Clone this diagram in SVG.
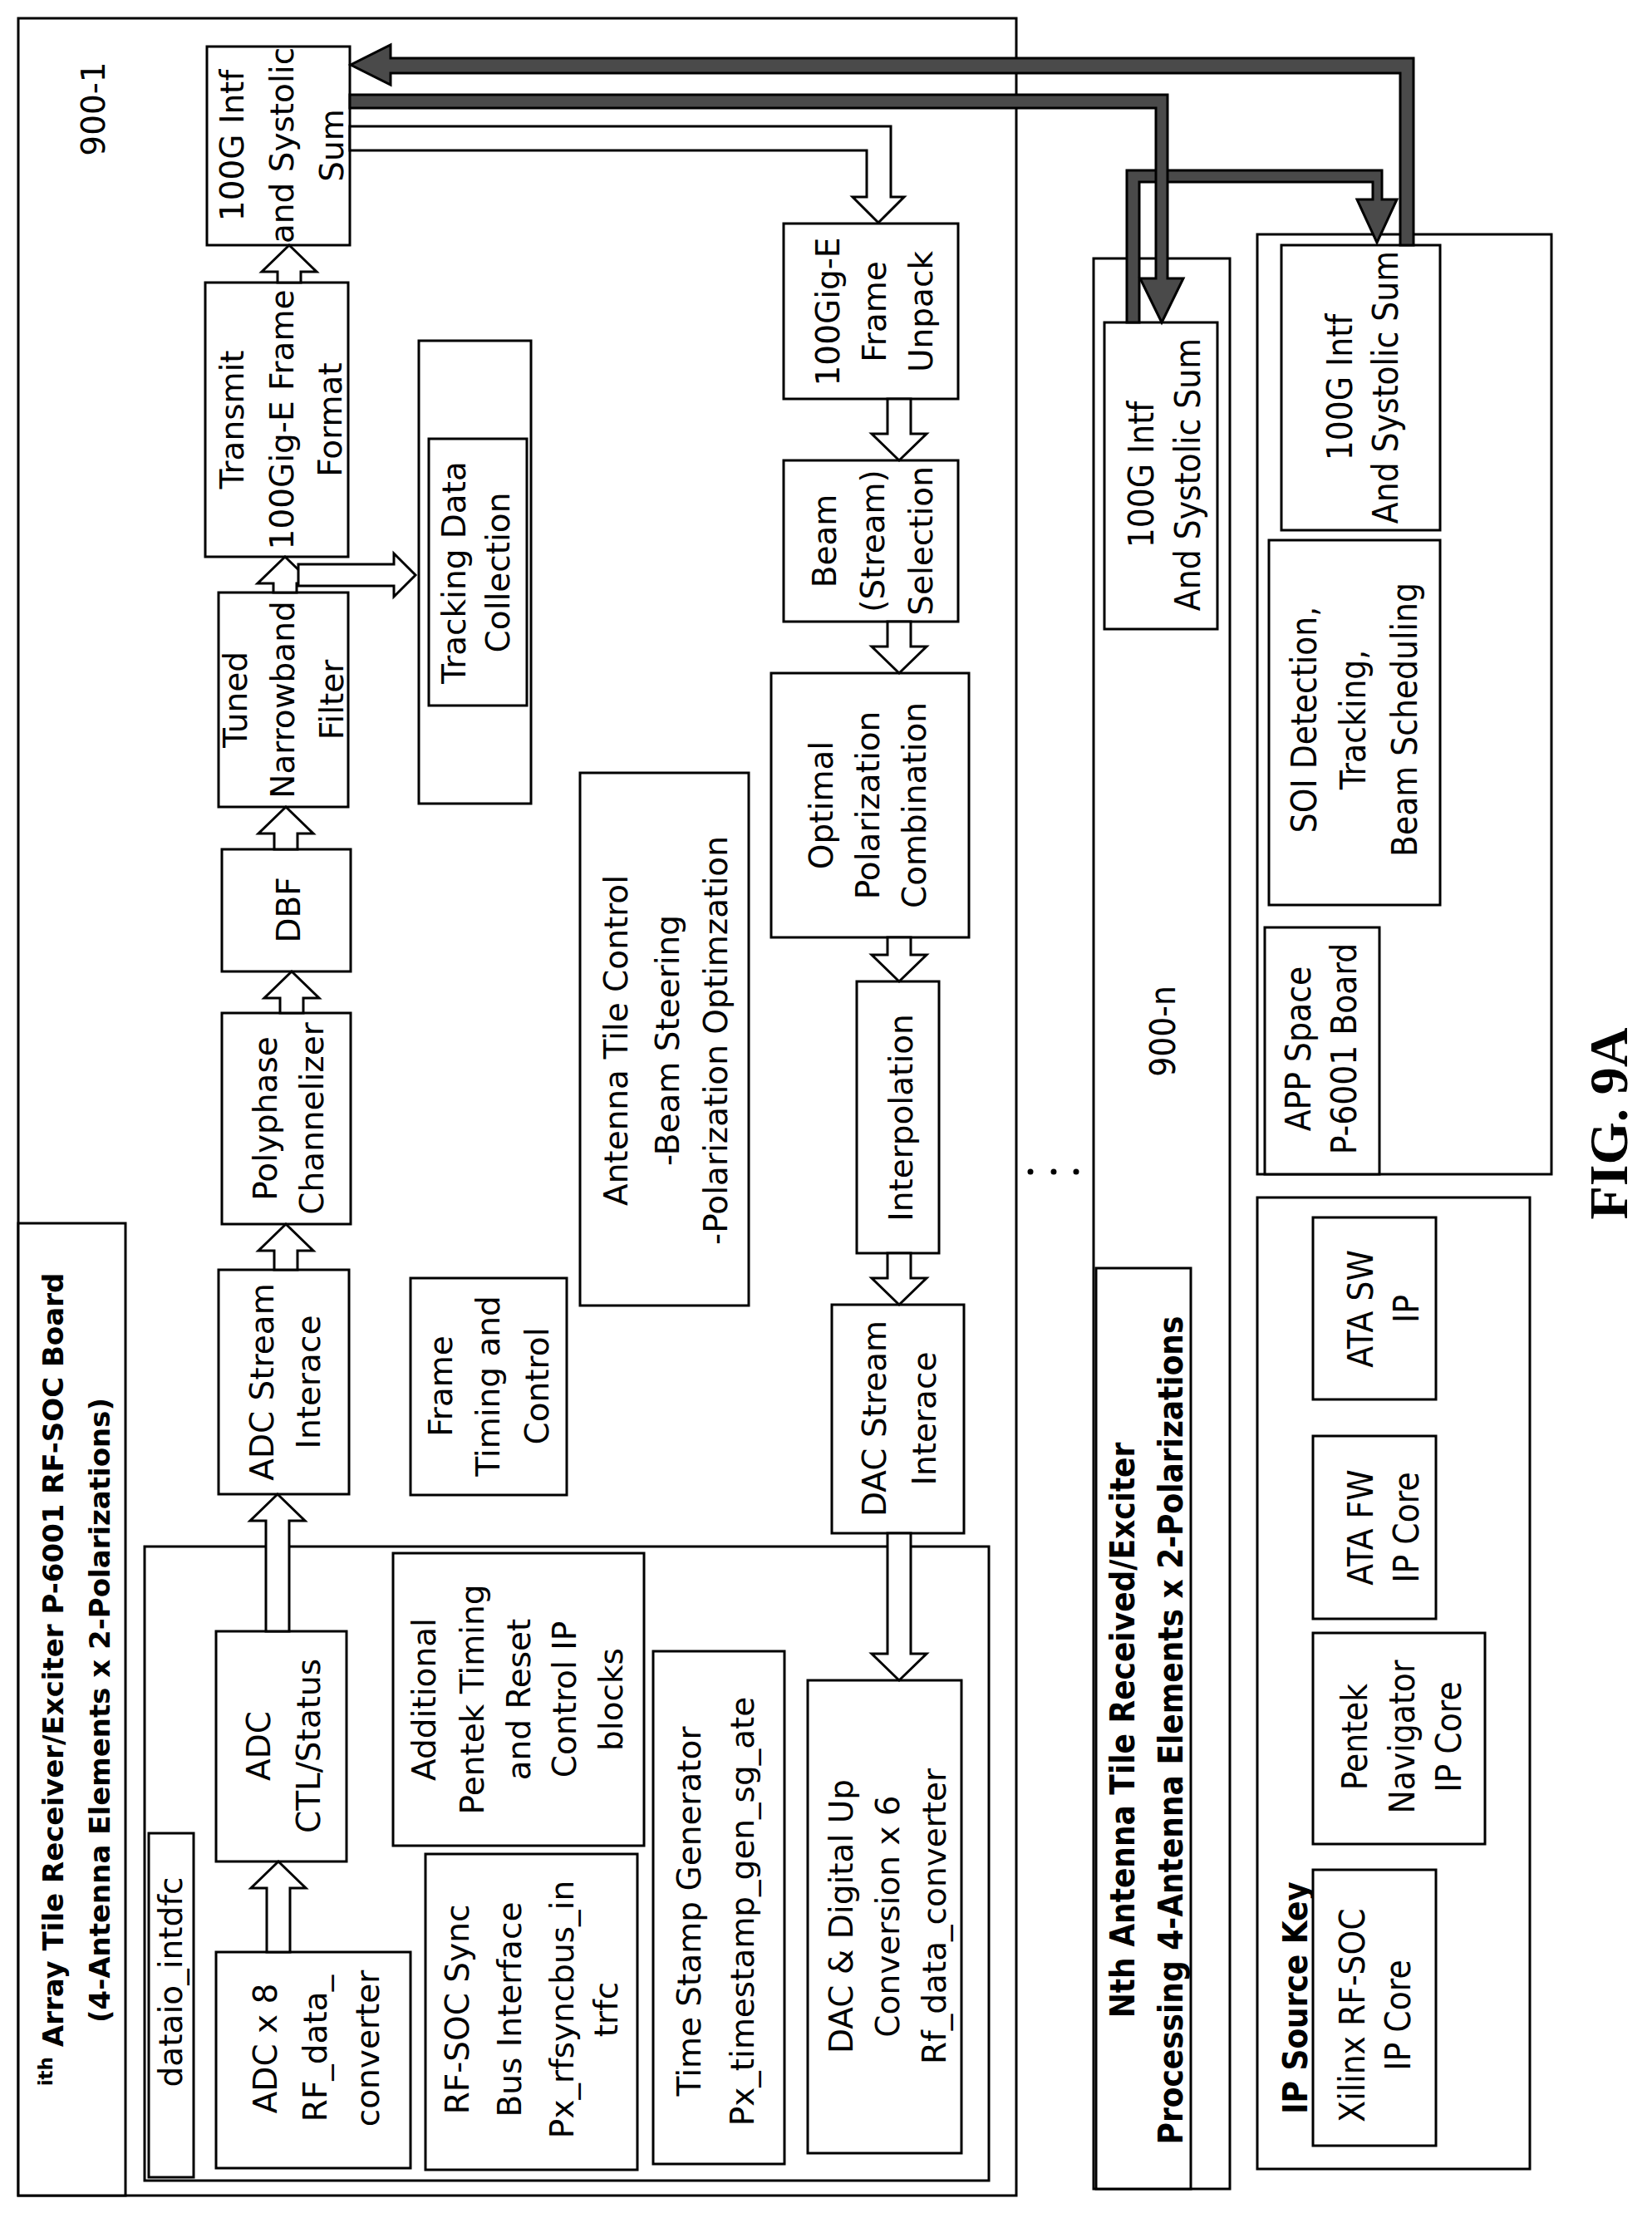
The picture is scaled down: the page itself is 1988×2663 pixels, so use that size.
<svg xmlns="http://www.w3.org/2000/svg" width="1988" height="2663" viewBox="0 0 1988 2663">
<style>
rect{fill:#fff;stroke:#000;stroke-width:3}
.t{font-family:"DejaVu Sans",sans-serif;font-size:39px;text-anchor:middle;dominant-baseline:central}
.b{font-family:"DejaVu Sans",sans-serif;font-weight:bold;font-size:34px;text-anchor:middle;dominant-baseline:central}
.c{font-family:"DejaVu Sans Condensed","DejaVu Sans",sans-serif;font-size:42px;text-anchor:middle;dominant-baseline:central;font-stretch:condensed}
.cb{font-family:"DejaVu Sans Condensed","DejaVu Sans",sans-serif;font-weight:bold;font-size:40px;text-anchor:middle;dominant-baseline:central;font-stretch:condensed}
.ha{fill:#fff;stroke:#000;stroke-width:3;stroke-linejoin:miter}
.da{fill:#4a4a4a;stroke:#000;stroke-width:3}
</style>
<rect width="1988" height="2663" style="fill:#fff;stroke:none"/>
<g id="board900-1">
<rect x="22" y="22" width="1201" height="2620"/>
<text class="t" transform="translate(112,131) rotate(-90)">900-1</text>
</g>
<g id="title1">
<rect x="22" y="1472" width="129" height="1170"/>
<text class="b" transform="translate(64,2021) rotate(-90)"><tspan font-size="23" dy="-9">i</tspan><tspan font-size="23">th</tspan><tspan dy="9"> Array Tile Receiver/Exciter P-6001 RF-SOC Board</tspan></text>
<text class="b" transform="translate(120,2058) rotate(-90)">(4-Antenna Elements x 2-Polarizations)</text>
</g>
<g id="intf1"><rect x="249" y="56" width="172" height="239"/>
<text class="t" transform="translate(279,175) rotate(-90)"><tspan x="0">100G Intf</tspan><tspan x="0" dy="60">and Systolic</tspan><tspan x="0" dy="60">Sum</tspan></text></g>
<g id="transmit"><rect x="247" y="340" width="172" height="330"/>
<text class="t" transform="translate(279,505) rotate(-90)"><tspan x="0">Transmit</tspan><tspan x="0" dy="60">100Gig-E Frame</tspan><tspan x="0" dy="58">Format</tspan></text></g>
<g id="tuned"><rect x="263" y="713" width="156" height="258"/>
<text class="t" transform="translate(283,842) rotate(-90)"><tspan x="0">Tuned</tspan><tspan x="0" dy="57">Narrowband</tspan><tspan x="0" dy="59">Filter</tspan></text></g>
<g id="tracking"><rect x="504" y="410" width="135" height="557"/><rect x="516" y="528" width="118" height="321"/>
<text class="t" transform="translate(546,689) rotate(-90)"><tspan x="0">Tracking Data</tspan><tspan x="0" dy="53">Collection</tspan></text></g>
<g id="unpack"><rect x="943" y="269" width="210" height="211"/>
<text class="t" transform="translate(996,375) rotate(-90)"><tspan x="0">100Gig-E</tspan><tspan x="0" dy="56">Frame</tspan><tspan x="0" dy="56">Unpack</tspan></text></g>
<g id="beamsel"><rect x="943" y="554" width="210" height="194"/>
<text class="t" transform="translate(992,651) rotate(-90)"><tspan x="0">Beam</tspan><tspan x="0" dy="58">(Stream)</tspan><tspan x="0" dy="58">Selection</tspan></text></g>
<g id="optimal"><rect x="928" y="810" width="238" height="318"/>
<text class="t" transform="translate(988,969) rotate(-90)"><tspan x="0">Optimal</tspan><tspan x="0" dy="56">Polarization</tspan><tspan x="0" dy="56">Combination</tspan></text></g>
<g id="antctl"><rect x="698" y="930" width="203" height="641"/>
<text class="t" transform="translate(741,1252) rotate(-90)"><tspan x="0">Antenna Tile Control</tspan><tspan x="0" dy="62">-Beam Steering</tspan><tspan x="0" dy="58">-Polarization Optimzation</tspan></text></g>
<g id="dbf"><rect x="267" y="1022" width="155" height="147"/>
<text class="t" transform="translate(347,1095) rotate(-90)">DBF</text></g>
<g id="polyphase"><rect x="267" y="1219" width="155" height="254"/>
<text class="t" transform="translate(319,1346) rotate(-90)"><tspan x="0">Polyphase</tspan><tspan x="0" dy="56">Channelizer</tspan></text></g>
<g id="adcstream"><rect x="263" y="1528" width="157" height="270"/>
<text class="t" transform="translate(315,1663) rotate(-90)"><tspan x="0">ADC Stream</tspan><tspan x="0" dy="56">Interace</tspan></text></g>
<g id="frametiming"><rect x="494" y="1538" width="188" height="261"/>
<text class="t" transform="translate(530,1668) rotate(-90)"><tspan x="0">Frame</tspan><tspan x="0" dy="57">Timing and</tspan><tspan x="0" dy="59">Control</tspan></text></g>
<g id="interp"><rect x="1031" y="1181" width="99" height="327"/>
<text class="t" transform="translate(1084,1345) rotate(-90)">Interpolation</text></g>
<g id="dacstream"><rect x="1001" y="1570" width="159" height="275"/>
<text class="t" transform="translate(1052,1707) rotate(-90)"><tspan x="0">DAC Stream</tspan><tspan x="0" dy="60">Interace</tspan></text></g>
<g id="dataio"><rect x="174" y="1861" width="1016" height="763"/><rect x="179" y="2206" width="54" height="414"/>
<text class="t" transform="translate(205,2385) rotate(-90)">dataio_intdfc</text></g>
<g id="adcctl"><rect x="260" y="1963" width="157" height="277"/>
<text class="t" transform="translate(311,2101) rotate(-90)"><tspan x="0">ADC</tspan><tspan x="0" dy="60">CTL/Status</tspan></text></g>
<g id="adc8"><rect x="260" y="2349" width="234" height="260"/>
<text class="t" transform="translate(319,2465) rotate(-90)"><tspan x="0">ADC x 8</tspan><tspan x="0" dy="60">RF_data_</tspan><tspan x="0" dy="63">converter</tspan></text></g>
<g id="additional"><rect x="473" y="1869" width="302" height="352"/>
<text class="t" transform="translate(510,2045) rotate(-90)"><tspan x="0">Additional</tspan><tspan x="0" dy="58">Pentek Timing</tspan><tspan x="0" dy="56">and Reset</tspan><tspan x="0" dy="55">Control IP</tspan><tspan x="0" dy="56">blocks</tspan></text></g>
<g id="rfsync"><rect x="512" y="2231" width="255" height="380"/>
<text class="t" transform="translate(550,2418) rotate(-90)"><tspan x="0">RF-SOC Sync</tspan><tspan x="0" dy="63">Bus Interface</tspan><tspan x="0" dy="63">Px_rfsyncbus_in</tspan><tspan x="0" dy="53">trfc</tspan></text></g>
<g id="timestamp"><rect x="786" y="1987" width="158" height="617"/>
<text class="t" transform="translate(829,2300) rotate(-90)"><tspan x="0">Time Stamp Generator</tspan><tspan x="0" dy="64">Px_timestamp_gen_sg_ate</tspan></text></g>
<g id="dacup"><rect x="972" y="2022" width="185" height="569"/>
<text class="t" transform="translate(1012,2306) rotate(-90)"><tspan x="0">DAC &amp; Digital Up</tspan><tspan x="0" dy="56">Conversion x 6</tspan><tspan x="0" dy="56">Rf_data_converter</tspan></text></g>
<g id="dots"><circle cx="1240" cy="1410" r="3.5"/><circle cx="1268" cy="1410" r="3.5"/><circle cx="1295" cy="1410" r="3.5"/></g>
<g id="board900-n">
<rect x="1316" y="311" width="164" height="2323"/>
<text class="c" transform="translate(1399,1241) rotate(-90)">900-n</text>
</g>
<g id="intfn"><rect x="1329" y="388" width="136" height="369"/>
<text class="c" transform="translate(1373,571) rotate(-90)"><tspan x="0">100G Intf</tspan><tspan x="0" dy="56">And Systolic Sum</tspan></text></g>
<g id="titlen"><rect x="1319" y="1526" width="114" height="1108"/>
<text class="cb" transform="translate(1351,2082) rotate(-90)"><tspan x="0">Nth Antenna Tile Received/Exciter</tspan><tspan x="0" dy="58">Processing 4-Antenna Elements x 2-Polarizations</tspan></text></g>
<g id="appspace"><rect x="1513" y="282" width="354" height="1131"/></g>
<g id="intfapp"><rect x="1542" y="295" width="191" height="343"/>
<text class="c" transform="translate(1612,466) rotate(-90)"><tspan x="0">100G Intf</tspan><tspan x="0" dy="55">And Systolic Sum</tspan></text></g>
<g id="soi"><rect x="1527" y="650" width="206" height="439"/>
<text class="c" transform="translate(1569,866) rotate(-90)"><tspan x="0">SOI Detection,</tspan><tspan x="0" dy="59">Tracking,</tspan><tspan x="0" dy="62">Beam Scheduling</tspan></text></g>
<g id="appboard"><rect x="1522" y="1116" width="138" height="297"/>
<text class="c" transform="translate(1562,1262) rotate(-90)"><tspan x="0">APP Space</tspan><tspan x="0" dy="55">P-6001 Board</tspan></text></g>
<g id="ipkey"><rect x="1513" y="1441" width="328" height="1169"/>
<text class="cb" transform="translate(1559,2404) rotate(-90)">IP Source Key</text></g>
<g id="xilinx"><rect x="1580" y="2250" width="148" height="332"/>
<text class="c" transform="translate(1627,2425) rotate(-90)"><tspan x="0">Xilinx RF-SOC</tspan><tspan x="0" dy="55">IP Core</tspan></text></g>
<g id="pentek"><rect x="1580" y="1965" width="207" height="254"/>
<text class="c" transform="translate(1630,2090) rotate(-90)"><tspan x="0">Pentek</tspan><tspan x="0" dy="57">Navigator</tspan><tspan x="0" dy="56">IP Core</tspan></text></g>
<g id="atafw"><rect x="1580" y="1728" width="148" height="220"/>
<text class="c" transform="translate(1637,1838) rotate(-90)"><tspan x="0">ATA FW</tspan><tspan x="0" dy="55">IP Core</tspan></text></g>
<g id="atasw"><rect x="1580" y="1465" width="148" height="219"/>
<text class="c" transform="translate(1637,1575) rotate(-90)"><tspan x="0">ATA SW</tspan><tspan x="0" dy="55">IP</tspan></text></g>
<g id="figlabel"><text transform="translate(1935,1352) rotate(-90)" style="font-family:'Liberation Serif',serif;font-weight:bold;font-size:66px;text-anchor:middle;dominant-baseline:central">FIG. 9A</text></g>
<g id="connectors">
<polygon class="ha" points="321,2349 321,2272 302,2272 335,2240 368,2272 349,2272 349,2349"/>
<polygon class="ha" points="320,1963 320,1830 301,1830 334,1798 367,1830 348,1830 348,1963"/>
<polygon class="ha" points="330,1528 330,1505 311,1505 344,1473 377,1505 358,1505 358,1528"/>
<polygon class="ha" points="337,1219 337,1201 318,1201 351,1169 384,1201 365,1201 365,1219"/>
<polygon class="ha" points="330,1022 330,1003 311,1003 344,971 377,1003 358,1003 358,1022"/>
<polygon class="ha" points="329,713 329,702 310,702 343,670 376,702 357,702 357,713"/>
<polygon class="ha" points="359,679 474,679 474,666 500,692 474,718 474,705 359,705"/>
<polygon class="ha" points="334,340 334,327 315,327 348,295 381,327 362,327 362,340"/>
<polygon class="ha" points="421,152 1072,152 1072,237 1088,237 1057,268 1026,237 1043,237 1043,181 421,181"/>
<polygon class="ha" points="1068,480 1068,522 1049,522 1082,554 1115,522 1096,522 1096,480"/>
<polygon class="ha" points="1068,748 1068,778 1049,778 1082,810 1115,778 1096,778 1096,748"/>
<polygon class="ha" points="1068,1128 1068,1149 1049,1149 1082,1181 1115,1149 1096,1149 1096,1128"/>
<polygon class="ha" points="1068,1508 1068,1538 1049,1538 1082,1570 1115,1538 1096,1538 1096,1508"/>
<polygon class="ha" points="1068,1845 1068,1990 1049,1990 1082,2022 1115,1990 1096,1990 1096,1845"/>
<polygon class="da" points="1701,295 1701,70 470,70 470,54 422,78 470,102 470,88 1685,88 1685,295"/>
<polygon class="da" points="1356,388 1356,205 1663,205 1663,240 1681,240 1657,292 1633,240 1652,240 1652,219 1371,219 1371,388"/>
<polygon class="da" points="421,114 1405,114 1405,335 1424,335 1398,388 1372,335 1391,335 1391,130 421,130"/>
</g>
</svg>
